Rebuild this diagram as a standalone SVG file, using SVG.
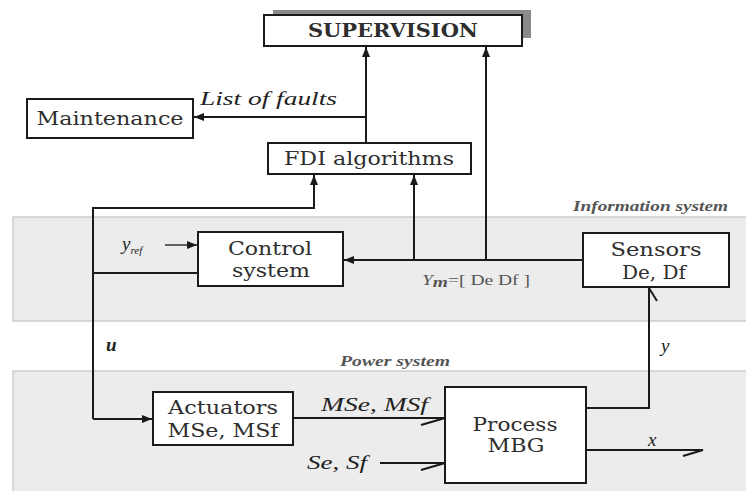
<svg xmlns="http://www.w3.org/2000/svg" width="746" height="491" viewBox="0 0 746 491">
<defs>
<marker id="ah" viewBox="0 0 10 8" refX="10" refY="4" markerWidth="10" markerHeight="8" markerUnits="userSpaceOnUse" orient="auto">
<path d="M0,0 L10,4 L0,8 z" fill="#1a1a1a"/>
</marker>
</defs>
<style>
.band{fill:#ececec;stroke:#c4c4c4;stroke-width:1.2}
.box{fill:#ffffff;stroke:#1a1a1a;stroke-width:2}
.t{fill:#2e2e2e;font-size:18px;text-anchor:middle}
.lbl{font-style:italic;fill:#222;font-size:19px}
.sm{font-style:italic;font-weight:bold;fill:#555;font-size:15px}
.c{fill:none;stroke:#1a1a1a;stroke-width:2}
</style>
<rect width="746" height="491" fill="#ffffff"/>
<rect class="band" x="13" y="217" width="740" height="104"/>
<rect class="band" x="13" y="371" width="740" height="130"/>
<g font-family="Liberation Serif, serif">
<text class="sm" x="573" y="211" textLength="155" lengthAdjust="spacingAndGlyphs">Information system</text>
<text class="sm" x="340" y="366" textLength="110" lengthAdjust="spacingAndGlyphs">Power system</text>
</g>

<g font-family="DejaVu Serif, serif">
<g id="supervision">
<rect x="273" y="10" width="258" height="28" fill="#8a8a8a"/>
<rect class="box" x="264" y="15" width="258" height="31"/>
<text class="t" x="393" y="37" font-weight="bold" font-size="16" textLength="170" lengthAdjust="spacingAndGlyphs" fill="#111">SUPERVISION</text>
</g>
<g id="maintenance">
<rect class="box" x="27" y="99" width="166" height="39"/>
<text class="t" x="110" y="125" textLength="147" lengthAdjust="spacingAndGlyphs">Maintenance</text>
</g>
<g id="fdi">
<rect class="box" x="268" y="143" width="203" height="31"/>
<text class="t" x="369" y="165" textLength="170" lengthAdjust="spacingAndGlyphs">FDI algorithms</text>
</g>
<g id="control">
<rect class="box" x="198" y="232" width="145" height="54"/>
<text class="t" x="270" y="255" textLength="84" lengthAdjust="spacingAndGlyphs">Control</text>
<text class="t" x="271" y="277" textLength="78" lengthAdjust="spacingAndGlyphs">system</text>
</g>
<g id="sensors">
<rect class="box" x="583" y="233" width="146" height="54"/>
<text class="t" x="656" y="256" textLength="91" lengthAdjust="spacingAndGlyphs">Sensors</text>
<text class="t" x="654" y="279" textLength="64" lengthAdjust="spacingAndGlyphs">De, Df</text>
</g>
<g id="actuators">
<rect class="box" x="153" y="392" width="140" height="53"/>
<text class="t" x="223" y="414" textLength="110" lengthAdjust="spacingAndGlyphs">Actuators</text>
<text class="t" x="223" y="437" textLength="111" lengthAdjust="spacingAndGlyphs">MSe, MSf</text>
</g>
<g id="process">
<rect class="box" x="445" y="387" width="141" height="96"/>
<text class="t" x="515" y="431" textLength="85" lengthAdjust="spacingAndGlyphs">Process</text>
<text class="t" x="516" y="452" textLength="57" lengthAdjust="spacingAndGlyphs">MBG</text>
</g>
</g>

<g id="connectors">
<path class="c" d="M366,143 V47" marker-end="url(#ah)"/>
<path class="c" d="M366,117 H194" marker-end="url(#ah)"/>
<path class="c" d="M486,260 V47" marker-end="url(#ah)"/>
<path class="c" d="M414,260 V175" marker-end="url(#ah)"/>
<path class="c" d="M583,260 H344" marker-end="url(#ah)"/>
<path class="c" d="M93,419 V208 H314 V175" marker-end="url(#ah)"/>
<path class="c" d="M93,419 H152" marker-end="url(#ah)"/>
<path class="c" d="M93,273 H198"/>
<path d="M165,245 H197" fill="none" stroke="#333" stroke-width="1.5" marker-end="url(#ah)"/>
<path class="c" d="M586,408 H649 V288"/>
<path class="c" d="M649,288 L657,301"/>
<path class="c" d="M293,418 H445 L421,425"/>
<path class="c" d="M380,463 H445 L421,470"/>
<path class="c" d="M586,450 H703 L683,456"/>
</g>

<g font-family="Liberation Serif, serif">
<text class="lbl" x="200" y="105" font-size="20" textLength="137" lengthAdjust="spacingAndGlyphs">List of faults</text>
<text class="lbl" x="122" y="250" font-size="17" fill="#555">y<tspan font-size="11" dy="4">ref</tspan></text>
<text class="lbl" x="106" y="351" font-weight="bold" font-size="19">u</text>
<text class="lbl" x="661" y="352" font-size="23">y</text>
<text class="lbl" x="648" y="446" font-size="23">x</text>
<text class="lbl" x="321" y="411" font-size="20" textLength="107" lengthAdjust="spacingAndGlyphs">MSe, MSf</text>
<text class="lbl" x="307" y="469" font-size="20" textLength="60" lengthAdjust="spacingAndGlyphs">Se, Sf</text>
<text x="422" y="285" font-size="15" fill="#555" textLength="108" lengthAdjust="spacingAndGlyphs"><tspan font-style="italic">Y</tspan><tspan font-style="italic" font-weight="bold" dy="2">m</tspan><tspan dy="-2">=[ De  Df ]</tspan></text>
</g>
</svg>
